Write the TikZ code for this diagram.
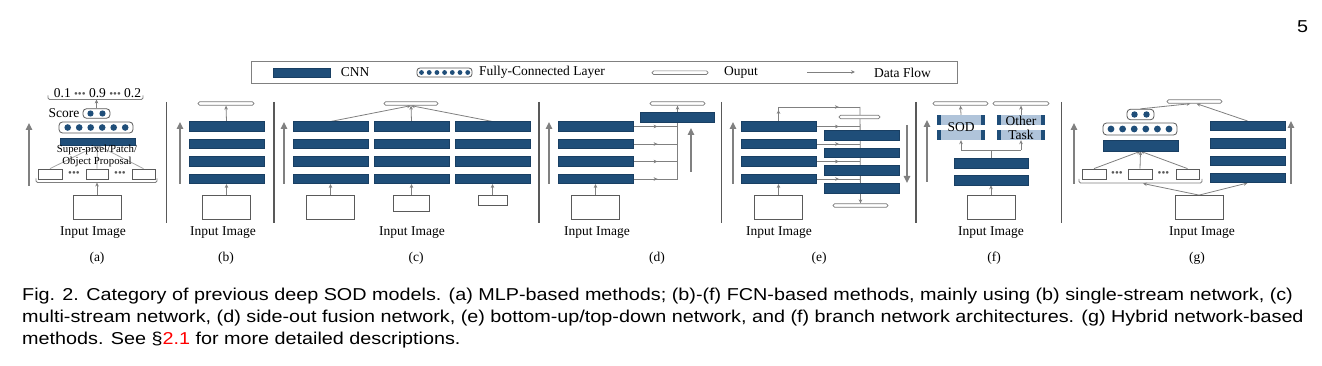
\documentclass[tikz,border=0pt]{standalone}
\usepackage{fontspec}
\setmainfont{Liberation Serif}
\newfontfamily\capfont[FakeStretch=1.15]{Liberation Sans}
\usetikzlibrary{arrows.meta,decorations.markings}
\pgfdeclarelayer{bg}
\pgfsetlayers{bg,main}
\definecolor{cnnblue}{HTML}{1F4E79}
\definecolor{cnnedge}{HTML}{193F63}
\definecolor{arrgray}{HTML}{808080}
\definecolor{lightarr}{HTML}{A6A6A6}
\definecolor{sepgray}{HTML}{595959}
\definecolor{boxgray}{HTML}{5A5A5A}
\definecolor{outgray}{HTML}{7A7A7A}
\definecolor{branchblue}{HTML}{B0C4DA}
\begin{document}
\begin{tikzpicture}[x=1pt,y=-1pt,
  cnn/.style={rectangle,draw=cnnedge,fill=cnnblue,line width=0.5pt,inner sep=0pt,minimum width=75pt,minimum height=9.5pt},
  outp/.style={rectangle,draw=outgray,fill=white,line width=0.7pt,rounded corners=1.6pt,inner sep=0pt,minimum height=3.6pt},
  imgbox/.style={rectangle,draw=boxgray,fill=white,line width=0.8pt,inner sep=0pt},
  fcbox/.style={rectangle,draw=boxgray,fill=white,line width=0.8pt,rounded corners=3.5pt,inner sep=0pt},
  flow/.style={draw=arrgray,line width=0.8pt,-{Stealth[length=4pt,width=3.6pt]}},
  lflow/.style={draw=lightarr,line width=0.8pt,-{Stealth[length=4pt,width=3.6pt]}},
  plain/.style={draw=arrgray,line width=0.8pt},
  flowmid/.style={draw=arrgray,line width=0.8pt,postaction={decorate},
    decoration={markings,mark=at position #1 with {\arrow{Stealth[length=4pt,width=3.6pt]}}}},
  flowmid/.default=0.5,
  bigarr/.style={draw=arrgray,line width=1.5pt,-{Triangle[length=7pt,width=6.5pt]}},
  sepline/.style={draw=sepgray,line width=1.1pt},
  brk/.style={draw=arrgray,line width=0.8pt,rounded corners=1.5pt},
  lbl/.style={inner sep=0pt,font=\fontsize{13.5pt}{15pt}\selectfont},
  small/.style={inner sep=0pt,font=\fontsize{10.8pt}{12pt}\selectfont},
  dotsl/.style={inner sep=0pt,text=sepgray,font=\fontsize{11pt}{11pt}\selectfont},
  captext/.style={inner sep=0pt,anchor=base west,font=\capfont\fontsize{17.2pt}{21.7pt}\selectfont}
]
\useasboundingbox (0,0) rectangle (1322,366);

% page number
\node[inner sep=0pt,anchor=base,font=\capfont\fontsize{17.2pt}{20pt}\selectfont] (pnum) at (1302.5,32.7) {5};

% ---------------- legend ----------------
\node[rectangle,draw=arrgray,line width=0.9pt,minimum width=706pt,minimum height=22pt,inner sep=0pt] (legend) at (604,72) {};
\node[cnn,minimum width=57pt,minimum height=9pt] (legC) at (301.5,72.5) {};
\node[lbl] (legCt) at (355,72.5) {CNN};
\node[fcbox,minimum width=55pt,minimum height=9pt,rounded corners=3pt] (legF) at (444.5,72.5) {};
\foreach \x in {421.5,429.2,436.9,444.6,452.3,460,467.7} \fill[cnnblue] (\x,72.5) circle (2.4pt);
\node[lbl,anchor=west] (legFt) at (479,72.5) {Fully-Connected Layer};
\node[outp,minimum width=56pt] (legO) at (680,72.7) {};
\node[lbl] (legOt) at (741,72.5) {Ouput};
\coordinate (legA1) at (807,72);
\coordinate (legA2) at (855,72);
\draw[flow] (legA1) -- (legA2);
\node[lbl,anchor=west] (legAt) at (874,72.5) {Data Flow};

% ---------------- separators ----------------
\foreach \x in {166.5,274,539,721.5,916,1061.5} \draw[sepline] (\x,102) -- (\x,222.5);

% ---------------- (a) ----------------
\node[imgbox,minimum width=48pt,minimum height=24pt] (aIn) at (97,207) {};
\node[imgbox,minimum width=24pt,minimum height=10pt] (aS1) at (50,174) {};
\node[imgbox,minimum width=22pt,minimum height=10pt] (aS2) at (97,174) {};
\node[imgbox,minimum width=23pt,minimum height=10pt] (aS3) at (143.5,174) {};
\node[dotsl] (aD1) at (74,174) {•••};
\node[dotsl] (aD2) at (120,174) {•••};
\coordinate (aBr) at (97,182.5);
\draw[brk] (36,178.5) -- (36,182.5) -- (157,182.5) -- (157,178.5);
\node[cnn,minimum height=6.5pt] (aC) at (97.5,141.8) {};
\node[small] (aT1) at (97,150) {Super-pixel/Patch/};
\node[small] (aT2) at (97,162) {Object Proposal};
\node[fcbox,minimum width=74pt,minimum height=11pt] (aFC) at (96,127.5) {};
\foreach \x in {67.7,79.2,90.7,102.2,113.7,125.2} \fill[cnnblue] (\x,127.5) circle (3.3pt);
\node[fcbox,minimum width=27pt,minimum height=9.5pt] (aFC2) at (96.5,113.5) {};
\foreach \x in {90.5,102.5} \fill[cnnblue] (\x,113.5) circle (3.1pt);
\node[lbl,anchor=east] (aScore) at (79.5,113.5) {Score};
\node[lbl] (aNum) at (97.5,93) {0.1 {\fontsize{11pt}{11pt}\selectfont \textcolor{sepgray}{•••}} 0.9 {\fontsize{11pt}{11pt}\selectfont \textcolor{sepgray}{•••}} 0.2};
\coordinate (aTop) at (96.5,99.5);
\draw[brk] (48,95.5) -- (48,99.5) -- (143,99.5) -- (143,95.5);
\draw[bigarr] (29,186) -- (29,123);
\node[lbl] (aLab) at (93,233) {Input Image};
\node[lbl] (aCapt) at (97,258) {(a)};

% ---------------- (b) ----------------
\node[cnn] (b1) at (226.5,126.5) {};
\node[cnn] (b2) at (226.5,144) {};
\node[cnn] (b3) at (226.5,161.5) {};
\node[cnn] (b4) at (226.5,179) {};
\node[outp,minimum width=56pt] (bOut) at (226,103.5) {};
\node[imgbox,minimum width=48pt,minimum height=24pt] (bIn) at (226.5,207) {};
\draw[bigarr] (180,184) -- (180,122);
\node[lbl] (bLab) at (223,233) {Input Image};
\node[lbl] (bCapt) at (226,258) {(b)};

% ---------------- (c) ----------------
\foreach \c/\x in {1/330.5,2/411.5,3/492.5}{
  \node[cnn] (c\c a) at (\x,126.5) {};
  \node[cnn] (c\c b) at (\x,144) {};
  \node[cnn] (c\c c) at (\x,161.5) {};
  \node[cnn] (c\c d) at (\x,179) {};
}
\node[outp,minimum width=54pt] (cOut) at (411,103.5) {};
\node[imgbox,minimum width=48pt,minimum height=24pt] (cIn1) at (330.5,207) {};
\node[imgbox,minimum width=36pt,minimum height=16pt] (cIn2) at (411.5,203) {};
\node[imgbox,minimum width=29pt,minimum height=10pt] (cIn3) at (492.5,200) {};
\draw[bigarr] (284,184) -- (284,122);
\node[lbl] (cLab) at (412,233) {Input Image};
\node[lbl] (cCapt) at (416,258) {(c)};

% ---------------- (d) ----------------
\node[cnn] (d1) at (595.5,126.5) {};
\node[cnn] (d2) at (595.5,144) {};
\node[cnn] (d3) at (595.5,161.5) {};
\node[cnn] (d4) at (595.5,179) {};
\node[cnn,minimum width=74pt,minimum height=10pt] (dTop) at (677.5,117) {};
\node[outp,minimum width=55pt] (dOut) at (677.5,103.5) {};
\node[imgbox,minimum width=48pt,minimum height=24pt] (dIn) at (595.5,207) {};
\draw[bigarr] (549,184) -- (549,122);
\draw[bigarr] (691,172) -- (691,128);
\node[lbl] (dLab) at (597,233) {Input Image};
\node[lbl] (dCapt) at (657,258) {(d)};

% ---------------- (e) ----------------
\node[cnn] (e1) at (778.5,126.5) {};
\node[cnn] (e2) at (778.5,144) {};
\node[cnn] (e3) at (778.5,161.5) {};
\node[cnn] (e4) at (778.5,179) {};
\node[cnn] (f1) at (861.5,135.5) {};
\node[cnn] (f2) at (861.5,153) {};
\node[cnn] (f3) at (861.5,170.5) {};
\node[cnn] (f4) at (861.5,188.3) {};
\node[outp,minimum width=41pt] (eOutT) at (859.5,117) {};
\node[outp,minimum width=55pt] (eOutB) at (860.5,205.5) {};
\node[imgbox,minimum width=48pt,minimum height=24pt] (eIn) at (778.5,207.5) {};
\coordinate (eTL) at (778.5,107);
\coordinate (eTR) at (860,107);
\draw[bigarr] (733,184) -- (733,122);
\draw[bigarr] (907,125) -- (907,183);
\node[lbl] (eLab) at (779,233) {Input Image};
\node[lbl] (eCapt) at (819,258) {(e)};

% ---------------- (f) ----------------
\node[cnn,minimum width=74pt,minimum height=10pt] (fs1) at (991,163) {};
\node[cnn,minimum width=74pt,minimum height=10pt] (fs2) at (991,180) {};
\foreach \n/\x in {Sod/961,Oth/1021}{
  \node[rectangle,fill=branchblue,inner sep=0pt,minimum width=48pt,minimum height=10pt] (\n A) at (\x,120) {};
  \node[rectangle,fill=branchblue,inner sep=0pt,minimum width=48pt,minimum height=10pt] (\n B) at (\x,135) {};
  \fill[cnnblue] (\x-24,115) rectangle (\x-20,125);
  \fill[cnnblue] (\x+20,115) rectangle (\x+24,125);
  \fill[cnnblue] (\x-24,130) rectangle (\x-20,140);
  \fill[cnnblue] (\x+20,130) rectangle (\x+24,140);
}
\node[lbl] (fSodT) at (961,127) {SOD};
\node[lbl] (fOthT1) at (1021,120.5) {Other};
\node[lbl] (fOthT2) at (1021,134.5) {Task};
\node[outp,minimum width=55pt] (fOut1) at (960.5,103.5) {};
\node[outp,minimum width=56pt] (fOut2) at (1021,103.5) {};
\node[imgbox,minimum width=48pt,minimum height=24pt] (fIn) at (991,207.5) {};
\coordinate (fJ) at (991,150);
\coordinate (fJL) at (961,150);
\coordinate (fJR) at (1021,150);
\draw[bigarr] (927,182) -- (927,120);
\node[lbl] (fLab) at (991,233) {Input Image};
\node[lbl] (fCapt) at (994,258) {(f)};

% ---------------- (g) ----------------
\node[outp,minimum width=55pt] (gOut) at (1194.5,101.5) {};
\node[fcbox,minimum width=27pt,minimum height=10.5pt] (gFC2) at (1140.5,114.5) {};
\foreach \x in {1134.5,1146.5} \fill[cnnblue] (\x,114.5) circle (3.2pt);
\node[fcbox,minimum width=74pt,minimum height=12pt] (gFC) at (1140,129) {};
\foreach \x in {1111,1122.6,1134.2,1145.8,1157.4,1169} \fill[cnnblue] (\x,129) circle (3.4pt);
\node[cnn,minimum height=11pt] (gC) at (1140.5,145.5) {};
\node[imgbox,minimum width=24pt,minimum height=10pt] (gS1) at (1094,174) {};
\node[imgbox,minimum width=24pt,minimum height=10pt] (gS2) at (1140,174) {};
\node[imgbox,minimum width=23pt,minimum height=10pt] (gS3) at (1187.5,174) {};
\node[dotsl] (gD1) at (1117,174) {•••};
\node[dotsl] (gD2) at (1163.5,174) {•••};
\draw[brk] (1079,179) -- (1079,183) -- (1202,183) -- (1202,179);
\coordinate (gBr) at (1143,183.5);
\node[cnn] (g1) at (1247.5,126) {};
\node[cnn] (g2) at (1247.5,143.3) {};
\node[cnn] (g3) at (1247.5,160.6) {};
\node[cnn] (g4) at (1247.5,178) {};
\node[imgbox,minimum width=48pt,minimum height=24pt] (gIn) at (1199,207.5) {};
\draw[bigarr] (1074,184) -- (1074,123);
\draw[bigarr] (1291,184) -- (1291,121);
\node[lbl] (gLab) at (1202,233) {Input Image};
\node[lbl] (gCapt) at (1197,258) {(g)};

% ---------------- caption ----------------
\node[captext] (cap1) at (22,300.7) {Fig. 2. Category of previous deep SOD models. (a) MLP-based methods; (b)-(f) FCN-based methods, mainly using (b) single-stream network, (c)};
\node[captext] (cap2) at (22,322.6) {multi-stream network, (d) side-out fusion network, (e) bottom-up/top-down network, and (f) branch network architectures. (g) Hybrid network-based};
\node[captext] (cap3) at (22,344.3) {methods. See §\textcolor{red}{2.1} for more detailed descriptions.};

% ---------------- connectors ----------------
\begin{pgfonlayer}{bg}
  % (a)
  \draw[flow] (aIn.north) -- (aBr);
  \draw[lflow] (aS1.north) -- (aC.south);
  \draw[lflow] (aS2.north) -- (aC.south);
  \draw[lflow] (aS3.north) -- (aC.south);
  \draw[flow] (aFC2.north) -- (aTop);
  % (b)
  \draw[flow] (bIn.north) -- (b4.south);
  \draw[flow] (b1.north) -- (bOut.south);
  % (c)
  \draw[flow] (cIn1.north) -- (c1d.south);
  \draw[flow] (cIn2.north) -- (c2d.south);
  \draw[flow] (cIn3.north) -- (c3d.south);
  \draw[flow] (c1a.north) -- (cOut.south);
  \draw[flow] (c2a.north) -- (cOut.south);
  \draw[flow] (c3a.north) -- (cOut.south);
  % (d)
  \draw[flow] (dIn.north) -- (d4.south);
  \foreach \n in {d1,d2,d3,d4} \draw[flowmid=0.55] (\n.east) -- (\n.east -| dTop.south);
  \draw[plain] (d4.east -| dTop.south) -- (dTop.south);
  \draw[flow] (dTop.north) -- (dOut.south);
  % (e)
  \draw[flow] (eIn.north) -- (e4.south);
  \draw[flowmid=0.8] (e1.north) -- (eTL);
  \draw[flowmid=0.74] (eTL) -- (eTR);
  \draw[flow] (eTR) -- (eOutB.north);
  \foreach \n in {e1,e2,e3,e4} \draw[flowmid=0.52] (\n.east) -- (\n.east -| eTR);
  % (f)
  \draw[flow] (fIn.north) -- (fs2.south);
  \draw[plain] (fs1.north) -- (fJ);
  \draw[plain] (fJL) -- (fJR);
  \draw[flow] (fJL) -- (SodB.south);
  \draw[flow] (fJR) -- (OthB.south);
  \draw[flow] (SodA.north) -- (fOut1.south);
  \draw[flow] (OthA.north) -- (fOut2.south);
  % (g)
  \draw[flow] (gIn.north) -- (gBr);
  \draw[flow] (gIn.north) -- (g4.south);
  \draw[flow] (gS1.north) -- (gC.south);
  \draw[flow] (gS2.north) -- (gC.south);
  \draw[flow] (gS3.north) -- (gC.south);
  \draw[flow] (gFC2.north) -- ([xshift=-4pt]gOut.south);
  \draw[flow] (g1.north) -- ([xshift=2pt]gOut.south);
\end{pgfonlayer}
\end{tikzpicture}
\end{document}
